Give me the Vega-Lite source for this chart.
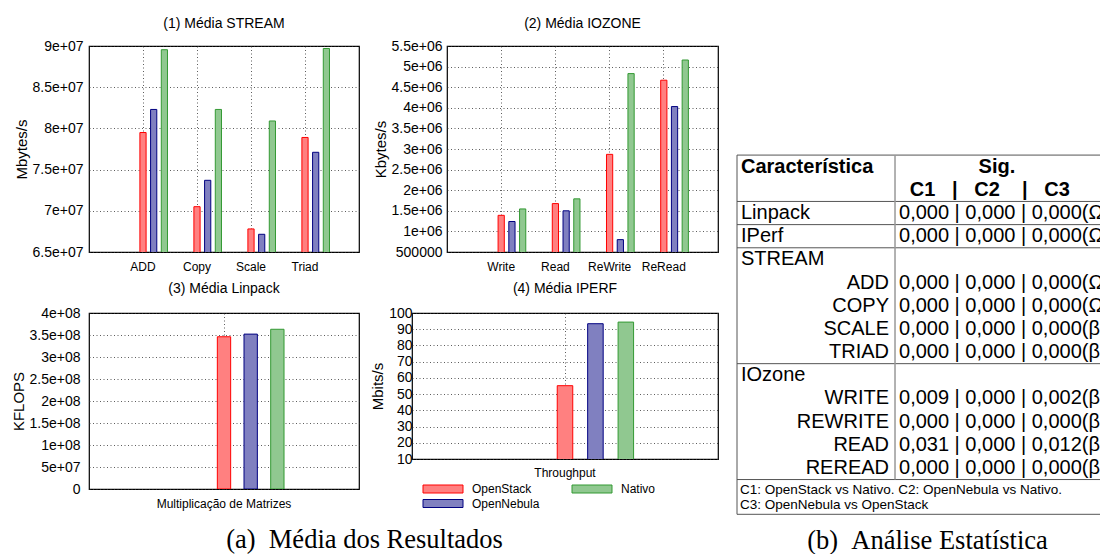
{
  "$schema": "https://vega.github.io/schema/vega-lite/v6.json",
  "background": "white",
  "padding": {"left": 10, "top": 16, "right": 0, "bottom": 0},
  "datasets": {
    "stream": [
      {"test": "ADD", "system": "OpenStack", "value": 79500000},
      {"test": "ADD", "system": "OpenNebula", "value": 82300000},
      {"test": "ADD", "system": "Nativo", "value": 89550000},
      {"test": "Copy", "system": "OpenStack", "value": 70500000},
      {"test": "Copy", "system": "OpenNebula", "value": 73700000},
      {"test": "Copy", "system": "Nativo", "value": 82300000},
      {"test": "Scale", "system": "OpenStack", "value": 67800000},
      {"test": "Scale", "system": "OpenNebula", "value": 67150000},
      {"test": "Scale", "system": "Nativo", "value": 80900000},
      {"test": "Triad", "system": "OpenStack", "value": 78900000},
      {"test": "Triad", "system": "OpenNebula", "value": 77100000},
      {"test": "Triad", "system": "Nativo", "value": 89700000}
    ],
    "iozone": [
      {"test": "Write", "system": "OpenStack", "value": 1390000},
      {"test": "Write", "system": "OpenNebula", "value": 1240000},
      {"test": "Write", "system": "Nativo", "value": 1545000},
      {"test": "Read", "system": "OpenStack", "value": 1675000},
      {"test": "Read", "system": "OpenNebula", "value": 1500000},
      {"test": "Read", "system": "Nativo", "value": 1790000},
      {"test": "ReWrite", "system": "OpenStack", "value": 2870000},
      {"test": "ReWrite", "system": "OpenNebula", "value": 800000},
      {"test": "ReWrite", "system": "Nativo", "value": 4830000},
      {"test": "ReRead", "system": "OpenStack", "value": 4670000},
      {"test": "ReRead", "system": "OpenNebula", "value": 4030000},
      {"test": "ReRead", "system": "Nativo", "value": 5160000}
    ],
    "linpack": [
      {"test": "Multiplicação de Matrizes", "system": "OpenStack", "value": 346000000},
      {"test": "Multiplicação de Matrizes", "system": "OpenNebula", "value": 352000000},
      {"test": "Multiplicação de Matrizes", "system": "Nativo", "value": 363000000}
    ],
    "iperf": [
      {"test": "Throughput", "system": "OpenStack", "value": 55.2},
      {"test": "Throughput", "system": "OpenNebula", "value": 93.4},
      {"test": "Throughput", "system": "Nativo", "value": 94.4}
    ],
    "tableHeader": [
      {"row": 1, "col": "label", "text": "Característica"},
      {"row": 1, "col": "sig", "text": "Sig."},
      {"row": 2, "col": "cols", "text": "C1\u00a0\u00a0\u00a0|\u00a0\u00a0\u00a0C2\u00a0\u00a0\u00a0\u00a0|\u00a0\u00a0\u00a0C3"}
    ],
    "sigTable": [
      {"row": 3, "label": "Linpack", "sub": false, "sig": "0,000 | 0,000 | 0,000(Ω"},
      {"row": 4, "label": "IPerf", "sub": false, "sig": "0,000 | 0,000 | 0,000(Ω"},
      {"row": 5, "label": "STREAM", "sub": false, "sig": ""},
      {"row": 6, "label": "ADD", "sub": true, "sig": "0,000 | 0,000 | 0,000(Ω"},
      {"row": 7, "label": "COPY", "sub": true, "sig": "0,000 | 0,000 | 0,000(Ω"},
      {"row": 8, "label": "SCALE", "sub": true, "sig": "0,000 | 0,000 | 0,000(β"},
      {"row": 9, "label": "TRIAD", "sub": true, "sig": "0,000 | 0,000 | 0,000(β"},
      {"row": 10, "label": "IOzone", "sub": false, "sig": ""},
      {"row": 11, "label": "WRITE", "sub": true, "sig": "0,009 | 0,000 | 0,002(β"},
      {"row": 12, "label": "REWRITE", "sub": true, "sig": "0,000 | 0,000 | 0,000(β"},
      {"row": 13, "label": "READ", "sub": true, "sig": "0,031 | 0,000 | 0,012(β"},
      {"row": 14, "label": "REREAD", "sub": true, "sig": "0,000 | 0,000 | 0,000(β"}
    ],
    "tableNote": [
      {"row": 15, "note": "C1: OpenStack vs Nativo. C2: OpenNebula vs Nativo.\nC3: OpenNebula vs OpenStack"}
    ],
    "tableLines": [
      {"boundary": 0.5}, {"boundary": 2.5}, {"boundary": 3.5}, {"boundary": 4.5},
      {"boundary": 9.5}, {"boundary": 14.5}, {"boundary": 16}
    ]
  },
  "hconcat": [
    {
      "title": {"text": "(a)\u00a0\u00a0Média dos Resultados", "orient": "bottom", "anchor": "middle", "font": "Liberation Serif", "fontSize": 26.5, "fontWeight": "normal", "offset": 16.5},
      "spacing": 8,
      "resolve": {"scale": {"x": "independent", "y": "independent", "xOffset": "independent", "color": "independent", "stroke": "independent"}, "legend": {"color": "independent", "stroke": "independent"}},
      "vconcat": [
        {
          "spacing": 12,
          "resolve": {"scale": {"x": "independent", "y": "independent", "xOffset": "independent", "color": "independent", "stroke": "independent"}, "legend": {"color": "independent", "stroke": "independent"}},
          "hconcat": [
            {
              "width": 270, "height": 206,
              "title": {"text": "(1) Média STREAM", "offset": 8},
              "data": {"name": "stream"},
              "mark": {"type": "bar", "clip": true, "strokeWidth": 1},
              "encoding": {
                "x": {"field": "test", "type": "nominal", "sort": null, "scale": {"paddingInner": 0, "paddingOuter": 0.5}, "axis": {"title": null, "labelPadding": 9, "bandPosition": 0.5}},
                "xOffset": {"field": "system", "type": "nominal", "scale": {"domain": ["pad1", "pad2", "OpenStack", "OpenNebula", "Nativo"], "paddingInner": 0.42, "paddingOuter": 0.235}},
                "y": {"field": "value", "type": "quantitative", "scale": {"domain": [65000000, 90000000], "nice": false, "zero": false}, "axis": {"title": "Mbytes/s", "values": [65000000, 70000000, 75000000, 80000000, 85000000, 90000000], "labelExpr": "replace(format(datum.value, '~e'), 'e+', 'e+0')", "labelPadding": 6, "titlePadding": 3}},
                "color": {"field": "system", "type": "nominal", "scale": {"domain": ["OpenStack", "Nativo", "OpenNebula"], "range": ["#ff8080", "#90c890", "#8080c0"]}, "legend": null},
                "stroke": {"field": "system", "type": "nominal", "scale": {"domain": ["OpenStack", "Nativo", "OpenNebula"], "range": ["#ff0000", "#339933", "#000080"]}, "legend": null}
              }
            },
            {
              "width": 271, "height": 206,
              "title": {"text": "(2) Média IOZONE", "offset": 8},
              "data": {"name": "iozone"},
              "mark": {"type": "bar", "clip": true, "strokeWidth": 1},
              "encoding": {
                "x": {"field": "test", "type": "nominal", "sort": null, "scale": {"paddingInner": 0, "paddingOuter": 0.5}, "axis": {"title": null, "labelPadding": 9, "bandPosition": 0.5}},
                "xOffset": {"field": "system", "type": "nominal", "scale": {"domain": ["pad1", "pad2", "OpenStack", "OpenNebula", "Nativo"], "paddingInner": 0.42, "paddingOuter": 0.235}},
                "y": {"field": "value", "type": "quantitative", "scale": {"domain": [500000, 5500000], "nice": false, "zero": false}, "axis": {"title": "Kbytes/s", "values": [500000, 1000000, 1500000, 2000000, 2500000, 3000000, 3500000, 4000000, 4500000, 5000000, 5500000], "labelExpr": "datum.value < 1000000 ? format(datum.value, 'd') : replace(format(datum.value, '~e'), 'e+', 'e+0')", "labelPadding": 5, "titlePadding": 3}},
                "color": {"field": "system", "type": "nominal", "scale": {"domain": ["OpenStack", "Nativo", "OpenNebula"], "range": ["#ff8080", "#90c890", "#8080c0"]}, "legend": null},
                "stroke": {"field": "system", "type": "nominal", "scale": {"domain": ["OpenStack", "Nativo", "OpenNebula"], "range": ["#ff0000", "#339933", "#000080"]}, "legend": null}
              }
            }
          ]
        },
        {
          "spacing": 10,
          "resolve": {"scale": {"x": "independent", "y": "independent", "xOffset": "independent", "color": "independent", "stroke": "independent"}, "legend": {"color": "independent", "stroke": "independent"}},
          "hconcat": [
            {
              "width": 270, "height": 176,
              "title": {"text": "(3) Média Linpack", "offset": 10},
              "data": {"name": "linpack"},
              "mark": {"type": "bar", "clip": true, "strokeWidth": 1},
              "encoding": {
                "x": {"field": "test", "type": "nominal", "sort": null, "scale": {"paddingInner": 0, "paddingOuter": 0.5}, "axis": {"title": null, "labelPadding": 9, "bandPosition": 0.5}},
                "xOffset": {"field": "system", "type": "nominal", "scale": {"domain": ["pad1", "pad2", "OpenStack", "OpenNebula", "Nativo"], "paddingInner": 0.5, "paddingOuter": 0.28}},
                "y": {"field": "value", "type": "quantitative", "scale": {"domain": [0, 400000000], "nice": false}, "axis": {"title": "KFLOPS", "values": [0, 50000000, 100000000, 150000000, 200000000, 250000000, 300000000, 350000000, 400000000], "labelExpr": "datum.value == 0 ? '0' : replace(format(datum.value, '~e'), 'e+', 'e+0')", "labelPadding": 9, "titlePadding": 3}},
                "color": {"field": "system", "type": "nominal", "scale": {"domain": ["OpenStack", "Nativo", "OpenNebula"], "range": ["#ff8080", "#90c890", "#8080c0"]}, "legend": null},
                "stroke": {"field": "system", "type": "nominal", "scale": {"domain": ["OpenStack", "Nativo", "OpenNebula"], "range": ["#ff0000", "#339933", "#000080"]}, "legend": null}
              }
            },
            {
              "width": 306, "height": 146,
              "title": {"text": "(4) Média IPERF", "offset": 10},
              "data": {"name": "iperf"},
              "mark": {"type": "bar", "clip": true, "strokeWidth": 1},
              "encoding": {
                "x": {"field": "test", "type": "nominal", "sort": null, "scale": {"paddingInner": 0, "paddingOuter": 0.5}, "axis": {"title": null, "labelPadding": 8, "bandPosition": 0.5}},
                "xOffset": {"field": "system", "type": "nominal", "scale": {"domain": ["pad1", "pad2", "OpenStack", "OpenNebula", "Nativo"], "paddingInner": 0.49, "paddingOuter": 0.26}},
                "y": {"field": "value", "type": "quantitative", "scale": {"domain": [10, 100], "nice": false, "zero": false}, "axis": {"title": "Mbits/s", "values": [10, 20, 30, 40, 50, 60, 70, 80, 90, 100], "labelPadding": 0, "titlePadding": 3}},
                "color": {"field": "system", "type": "nominal", "scale": {"domain": ["OpenStack", "Nativo", "OpenNebula"], "range": ["#ff8080", "#90c890", "#8080c0"]}, "legend": {"orient": "bottom", "direction": "horizontal", "columns": 2, "title": null, "symbolType": "M1,-0.8H9V0.8H1Z", "symbolSize": 100, "symbolStrokeWidth": 1, "labelFontSize": 12, "labelFont": "Liberation Sans", "labelColor": "black", "labelOffset": 48, "columnPadding": 21, "rowPadding": 2.5, "offset": 5}},
                "stroke": {"field": "system", "type": "nominal", "scale": {"domain": ["OpenStack", "Nativo", "OpenNebula"], "range": ["#ff0000", "#339933", "#000080"]}, "legend": {"orient": "bottom", "direction": "horizontal", "columns": 2, "title": null, "symbolType": "M1,-0.8H9V0.8H1Z", "symbolSize": 100, "symbolStrokeWidth": 1, "labelFontSize": 12, "labelFont": "Liberation Sans", "labelColor": "black", "labelOffset": 48, "columnPadding": 21, "rowPadding": 2.5, "offset": 5}}
              }
            }
          ]
        }
      ]
    },
    {
      "width": 365, "height": 470,
      "view": {"stroke": null},
      "title": {"text": "(b)\u00a0\u00a0Análise Estatística", "orient": "bottom", "anchor": "middle", "font": "Liberation Serif", "fontSize": 26.5, "fontWeight": "normal", "offset": 11.5, "dx": 8},
      "layer": [
        {
          "data": {"name": "tableLines"},
          "mark": {"type": "rule", "color": "#555555", "strokeWidth": 1},
          "encoding": {
            "y": {"field": "boundary", "type": "quantitative", "scale": {"domain": [0, 16], "range": [97.5, 468.3], "nice": false, "zero": false}, "axis": null},
            "x": {"datum": 0, "type": "quantitative", "scale": {"domain": [0, 2.31], "nice": false, "zero": false}, "axis": null},
            "x2": {"datum": 2.31}
          }
        },
        {
          "data": {"values": [{}]},
          "mark": {"type": "rule", "color": "#555555", "strokeWidth": 1},
          "encoding": {
            "x": {"datum": 0, "type": "quantitative"},
            "y": {"datum": 0.5, "type": "quantitative"},
            "y2": {"datum": 16}
          }
        },
        {
          "data": {"values": [{}]},
          "mark": {"type": "rule", "color": "#999999", "strokeWidth": 1.5},
          "encoding": {
            "x": {"datum": 1, "type": "quantitative"},
            "y": {"datum": 0.5, "type": "quantitative"},
            "y2": {"datum": 14.5}
          }
        },
        {
          "data": {"name": "tableHeader"},
          "transform": [{"filter": "datum.col == 'label'"}],
          "mark": {"type": "text", "align": "left", "dx": 4, "fontSize": 20, "fontWeight": "bold", "font": "Liberation Sans", "color": "black"},
          "encoding": {
            "x": {"datum": 0, "type": "quantitative"},
            "y": {"field": "row", "type": "quantitative"},
            "text": {"field": "text"}
          }
        },
        {
          "data": {"name": "tableHeader"},
          "transform": [{"filter": "datum.col == 'sig'"}],
          "mark": {"type": "text", "align": "center", "fontSize": 20, "fontWeight": "bold", "font": "Liberation Sans", "color": "black"},
          "encoding": {
            "x": {"datum": 1.645, "type": "quantitative"},
            "y": {"field": "row", "type": "quantitative"},
            "text": {"field": "text"}
          }
        },
        {
          "data": {"name": "tableHeader"},
          "transform": [{"filter": "datum.col == 'cols'"}],
          "mark": {"type": "text", "align": "center", "fontSize": 20, "fontWeight": "bold", "font": "Liberation Sans", "color": "black"},
          "encoding": {
            "x": {"datum": 1.6, "type": "quantitative"},
            "y": {"field": "row", "type": "quantitative"},
            "text": {"field": "text"}
          }
        },
        {
          "data": {"name": "sigTable"},
          "transform": [{"filter": "!datum.sub"}],
          "mark": {"type": "text", "align": "left", "dx": 4, "fontSize": 20, "font": "Liberation Sans", "color": "black"},
          "encoding": {
            "x": {"datum": 0, "type": "quantitative"},
            "y": {"field": "row", "type": "quantitative"},
            "text": {"field": "label"}
          }
        },
        {
          "data": {"name": "sigTable"},
          "transform": [{"filter": "datum.sub"}],
          "mark": {"type": "text", "align": "right", "dx": -6, "fontSize": 20, "font": "Liberation Sans", "color": "black"},
          "encoding": {
            "x": {"datum": 1, "type": "quantitative"},
            "y": {"field": "row", "type": "quantitative"},
            "text": {"field": "label"}
          }
        },
        {
          "data": {"name": "sigTable"},
          "transform": [{"filter": "datum.sig != ''"}],
          "mark": {"type": "text", "align": "left", "dx": 4, "fontSize": 20, "font": "Liberation Sans", "color": "black", "clip": true},
          "encoding": {
            "x": {"datum": 1, "type": "quantitative"},
            "y": {"field": "row", "type": "quantitative"},
            "text": {"field": "sig"}
          }
        },
        {
          "data": {"name": "tableNote"},
          "mark": {"type": "text", "align": "left", "baseline": "top", "dx": 3, "dy": -8, "fontSize": 13.5, "font": "Liberation Sans", "color": "black", "lineBreak": "\n", "lineHeight": 15, "clip": true},
          "encoding": {
            "x": {"datum": 0, "type": "quantitative"},
            "y": {"field": "row", "type": "quantitative"},
            "text": {"field": "note"}
          }
        }
      ]
    }
  ],
  "spacing": 17,
  "resolve": {"scale": {"x": "independent", "y": "independent", "xOffset": "independent", "color": "independent", "stroke": "independent"}, "legend": {"color": "independent", "stroke": "independent"}},
  "config": {
    "font": "Liberation Sans",
    "view": {"stroke": "black", "strokeWidth": 1.2},
    "axis": {"domain": false, "ticks": false, "grid": true, "gridColor": "#333333", "gridDash": [1, 2.5], "gridWidth": 0.8, "labelColor": "black", "titleColor": "black", "labelFont": "Liberation Sans", "titleFont": "Liberation Sans", "titleFontWeight": "normal", "labelFontSize": 14, "titleFontSize": 15},
    "axisX": {"labelFontSize": 12, "labelAngle": 0},
    "title": {"font": "Liberation Sans", "fontWeight": "normal", "fontSize": 14, "color": "black"}
  }
}
